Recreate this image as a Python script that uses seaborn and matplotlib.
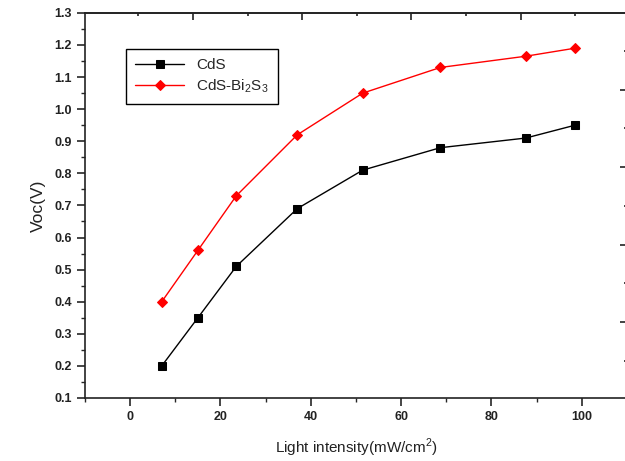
import numpy as np
import pandas as pd
import matplotlib
matplotlib.use("Agg")
import matplotlib.pyplot as plt
import seaborn as sns
from matplotlib.ticker import MultipleLocator, FormatStrFormatter, FixedLocator, NullFormatter

# ---- data ----
intensity = [7, 15, 23.5, 37, 51.5, 68.7, 87.6, 98.5]
voc_cds = [0.20, 0.35, 0.51, 0.69, 0.81, 0.88, 0.91, 0.95]
voc_cds_bi2s3 = [0.40, 0.56, 0.73, 0.92, 1.05, 1.13, 1.165, 1.19]
series_names = ["CdS", "CdS-Bi$_2$S$_3$"]
x_ticks = [0, 20, 40, 60, 80, 100]
y_ticks = [0.1, 0.2, 0.3, 0.4, 0.5, 0.6, 0.7, 0.8, 0.9, 1.0, 1.1, 1.2, 1.3]

df = pd.DataFrame({
    "x": intensity * 2,
    "y": voc_cds + voc_cds_bi2s3,
    "series": [series_names[0]] * len(intensity) + [series_names[1]] * len(intensity),
})

sns.set_style("ticks")
plt.rcParams['font.family'] = ['Liberation Sans', 'DejaVu Sans']
plt.rcParams['mathtext.fontset'] = 'custom'
plt.rcParams['mathtext.rm'] = 'Liberation Sans'

fig = plt.figure(figsize=(6.25, 4.61), dpi=100)
ax = fig.add_axes([0.136, 0.1367, 0.867, 0.8353])

styles = {series_names[0]: ("black", "s", 6), series_names[1]: ("red", "D", 5.5)}
for name in series_names:
    col, mk, ms = styles[name]
    sub = df[df["series"] == name]
    sns.lineplot(data=sub, x="x", y="y", color=col, marker=mk, markersize=ms,
                 markeredgecolor=col, linewidth=1.0, label=name, ax=ax)

ax.set_xlim(-10, 110)
ax.set_ylim(0.1, 1.3)
ax.set_xticks(x_ticks)
ax.set_yticks(y_ticks)
ax.xaxis.set_minor_locator(MultipleLocator(10))
ax.yaxis.set_minor_locator(MultipleLocator(0.05))
ax.yaxis.set_major_formatter(FormatStrFormatter("%.1f"))
ax.tick_params(which="major", direction="out", length=6, width=1.2, labelsize=9,
               labelcolor="#222222")
ax.tick_params(which="minor", direction="out", length=3, width=1)
for lbl in ax.get_xticklabels() + ax.get_yticklabels():
    lbl.set_fontweight("bold")
for s in ax.spines.values():
    s.set_linewidth(1.2)
    s.set_color("#222222")

ax.set_xlabel("Light intensity(mW/cm$^2$)", fontsize=11, color="#222222", labelpad=10)
ax.set_ylabel("Voc(V)", fontsize=12.5, color="#222222", labelpad=6)

# inward ticks on the top and right frame (own, unlabeled scales)
ident = (lambda v: v, lambda v: v)
sx = ax.secondary_xaxis("top", functions=ident)
sx.xaxis.set_major_locator(FixedLocator([13.9, 38.1, 62.3, 86.5]))
sx.xaxis.set_minor_locator(FixedLocator([1.8, 26.0, 50.2, 74.4, 98.6]))
sx.xaxis.set_major_formatter(NullFormatter())
sx.tick_params(axis="x", which="major", direction="in", length=5, width=1.2, color="#222222")
sx.tick_params(axis="x", which="minor", direction="in", length=2.5, width=1.2, color="#222222")
sx.spines["top"].set_linewidth(1.2)
sx.spines["top"].set_color("#222222")

sy = ax.secondary_yaxis("right", functions=ident)
sy.yaxis.set_major_locator(FixedLocator([0.337, 0.578, 0.820, 1.061]))
sy.yaxis.set_minor_locator(FixedLocator([0.216, 0.458, 0.699, 0.942, 1.182]))
sy.yaxis.set_major_formatter(NullFormatter())
sy.tick_params(axis="y", which="major", direction="in", length=5, width=1.2, color="#222222")
sy.tick_params(axis="y", which="minor", direction="in", length=2.5, width=1.2, color="#222222")

leg = ax.legend(loc="upper left", bbox_to_anchor=(0.0756, 0.906), borderaxespad=0,
                fontsize=11, fancybox=False, edgecolor="black", framealpha=1,
                handlelength=3.2, labelspacing=0.3, borderpad=0.6)
leg.get_frame().set_linewidth(1.0)

fig.savefig("out.png", dpi=100)
